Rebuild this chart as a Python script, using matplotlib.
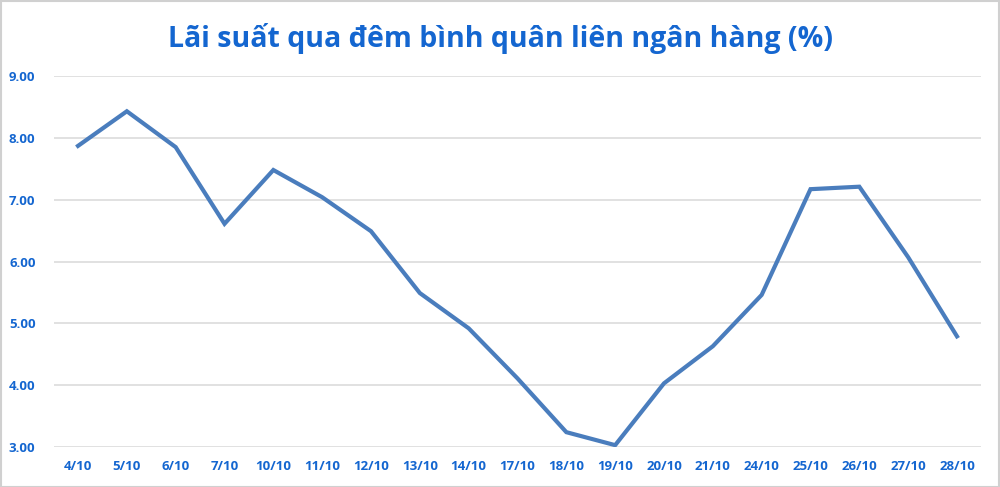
#!/usr/bin/env python3
"""Overnight interbank average rate line chart."""

import matplotlib.pyplot as plt
from matplotlib.patches import Rectangle

OUT_PNG = "out.png"

DATES = ["4/10", "5/10", "6/10", "7/10", "10/10", "11/10", "12/10", "13/10",
         "14/10", "17/10", "18/10", "19/10", "20/10", "21/10", "24/10",
         "25/10", "26/10", "27/10", "28/10"]
RATES = [7.87, 8.43, 7.85, 6.61, 7.48, 7.04, 6.49, 5.49, 4.92, 4.11,
         3.24, 3.03, 4.03, 4.63, 5.46, 7.17, 7.21, 6.07, 4.79]
Y_TICKS = [3, 4, 5, 6, 7, 8, 9]

TITLE = "Lãi suất qua đêm bình quân liên ngân hàng (%)"
TEXT_BLUE = "#1466d0"
LINE_BLUE = "#4a7dbd"

plt.rcParams["font.family"] = ["Open Sans", "DejaVu Sans"]


def main() -> None:
    fig = plt.figure(figsize=(10, 4.87), dpi=100)
    fig.patches.append(Rectangle((0.001, 0.001), 0.998, 0.997, transform=fig.transFigure,
                                 fill=False, edgecolor="#d0d0d0", lw=1.5))
    ax = fig.add_axes([0.0536, 0.0821, 0.9278, 0.7618])

    x = list(range(len(DATES)))
    ax.plot(x, RATES, color=LINE_BLUE, lw=3.0, solid_joinstyle="miter")

    ax.set_xlim(-0.5, len(DATES) - 0.5)
    ax.set_ylim(3, 9)
    ax.set_yticks(Y_TICKS)
    ax.set_yticklabels([f"{v:.2f}" for v in Y_TICKS], color=TEXT_BLUE,
                       fontsize=9.5, fontweight="bold")
    ax.set_xticks(x)
    ax.set_xticklabels(DATES, color=TEXT_BLUE, fontsize=9.5, fontweight="bold")
    ax.tick_params(axis="both", length=0)
    ax.tick_params(axis="y", pad=13)
    ax.tick_params(axis="x", pad=9)
    ax.grid(axis="y", color="#d9d9d9", lw=1.1)
    ax.set_axisbelow(True)
    for side in ax.spines.values():
        side.set_visible(False)

    fig.text(0.5, 0.92, TITLE, ha="center", va="center", color=TEXT_BLUE,
             fontsize=20.5, fontweight="bold")
    fig.savefig(OUT_PNG, dpi=100)
    plt.close(fig)


if __name__ == "__main__":
    main()
